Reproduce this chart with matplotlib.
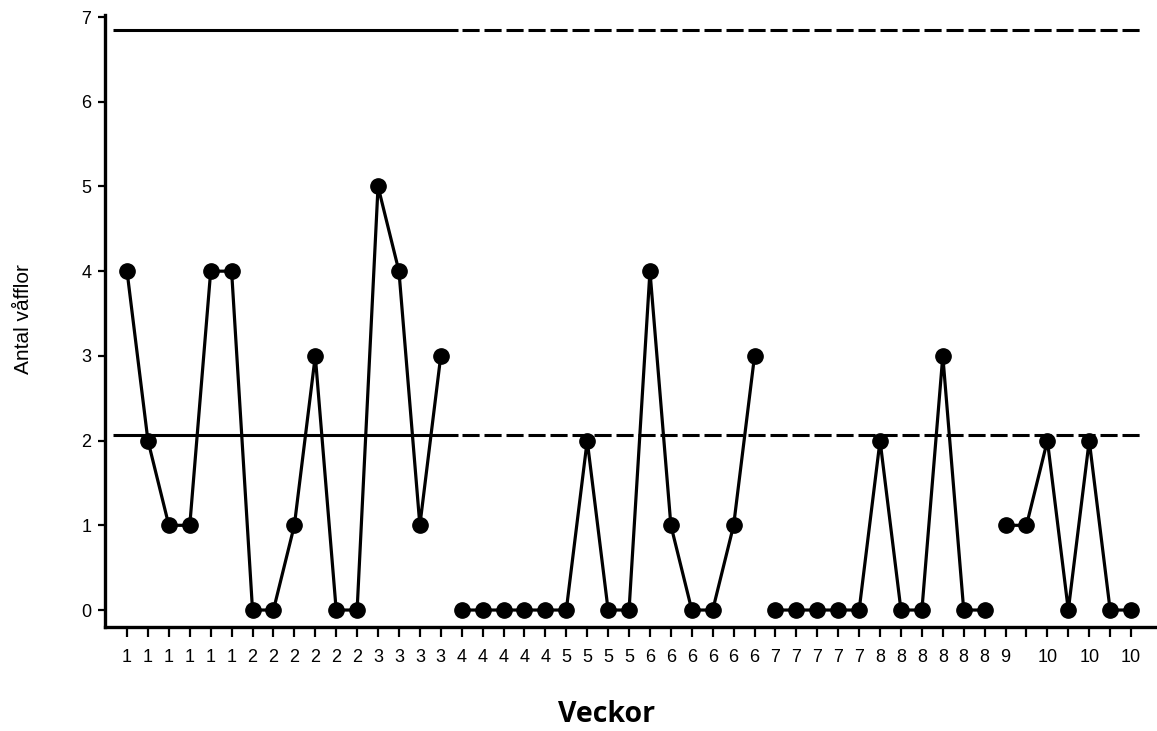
import matplotlib.pyplot as plt

# weekly counts (one point per observation)
values = [4, 2, 1, 1, 4, 4, 0, 0, 1, 3, 0, 0, 5, 4, 1, 3,
          0, 0, 0, 0, 0, 0, 2, 0, 0, 4, 1, 0, 0, 1, 3,
          0, 0, 0, 0, 0, 2, 0, 0, 3, 0, 0,
          1, 1, 2, 0, 2, 0, 0]
tick_labels = ['1'] * 6 + ['2'] * 6 + ['3'] * 4 + ['4'] * 5 + ['5'] * 4 + \
              ['6'] * 6 + ['7'] * 5 + ['8'] * 6 + ['9'] + \
              ['', '10', '', '10', '', '10']
phase_starts = [0, 16, 31, 42]
center_line = 2.07
upper_limit = 6.85

fig = plt.figure(figsize=(11.57, 7.31), dpi=100)
ax = fig.add_axes([0.0908, 0.1423, 0.9092, 0.8372])

x = list(range(len(values)))

# control lines: solid over the baseline phase, dashed after
for level in (center_line, upper_limit):
    ax.plot([-0.65, 15.8], [level, level], color='black', lw=2.2, solid_capstyle='butt')
    ax.plot([16.0, 48.55], [level, level], color='black', lw=2.2,
            linestyle=(0, (5.6, 1.6)), dash_capstyle='butt')

ends = phase_starts[1:] + [len(values)]
for s, e in zip(phase_starts, ends):
    ax.plot(x[s:e], values[s:e], color='black', lw=2.3, marker='o',
            markersize=11, markerfacecolor='black', markeredgecolor='black', zorder=3)

ax.set_xlim(-1.05, 49.24)
ax.set_ylim(-0.2, 7.024)
ax.set_xticks(x)
ax.set_xticklabels(tick_labels, fontsize=13, family='Liberation Sans')
ax.set_yticks(range(0, 8))
ax.set_yticklabels([str(v) for v in range(0, 8)], fontsize=13, family='Liberation Sans')
ax.tick_params(axis='x', length=7, width=1.6, pad=9)
ax.tick_params(axis='y', length=5, width=1.6, pad=5)

for side in ('top', 'right'):
    ax.spines[side].set_visible(False)
for side in ('left', 'bottom'):
    ax.spines[side].set_linewidth(2.4)

fig.text(24 / 1157, 1 - 319 / 731, 'Antal våfflor', rotation=90, ha='center', va='center',
         fontsize=15, family='Liberation Sans')
fig.text(607 / 1157, 1 - 714 / 731, 'Veckor', ha='center', va='center',
         fontsize=20.5, family='Open Sans', weight='bold')

fig.savefig('out.png', dpi=100)
